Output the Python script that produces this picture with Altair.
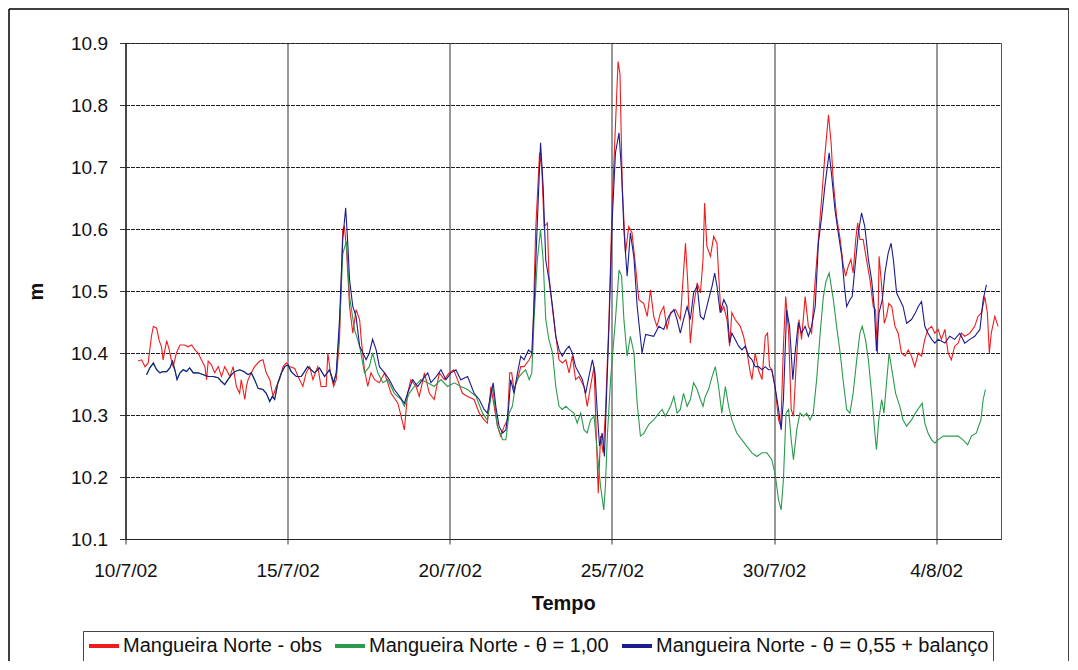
import altair as alt
import pandas as pd

# ---------------- data (days since 10/7/2002 00:00, water level in m) ----------------
series_names = [
    "Mangueira Norte - obs",
    "Mangueira Norte - θ = 1,00",
    "Mangueira Norte - θ = 0,55 + balanço",
]
series_colors = ["#f01c1c", "#2a9a4c", "#1c1c8e"]

tick_labels = ["10/7/02", "15/7/02", "20/7/02", "25/7/02", "30/7/02", "4/8/02"]
tick_days = [0, 5, 10, 15, 20, 25]
y_ticks = [10.1, 10.2, 10.3, 10.4, 10.5, 10.6, 10.7, 10.8, 10.9]

obs_day = [0.39, 0.50, 0.60, 0.70, 0.80, 0.86, 0.96, 1.04, 1.11, 1.16, 1.27, 1.35, 1.42, 1.47, 1.57, 1.68, 1.83, 1.93,
           2.04, 2.14, 2.24, 2.34, 2.45, 2.50, 2.55, 2.65, 2.75, 2.86, 2.96, 3.06, 3.22, 3.32, 3.42, 3.52, 3.57, 3.68,
           3.73, 3.78, 3.88, 3.98, 4.14, 4.24, 4.34, 4.45, 4.55, 4.65, 4.75, 4.86, 4.96, 5.06, 5.22, 5.32, 5.47, 5.57,
           5.68, 5.78, 5.93, 6.03, 6.19, 6.24, 6.32, 6.42, 6.50, 6.60, 6.70, 6.75, 6.81, 6.91, 7.01, 7.11, 7.22, 7.27,
           7.37, 7.47, 7.57, 7.68, 7.83, 7.99, 8.19, 8.40, 8.55, 8.60, 8.70, 8.80, 8.96, 9.06, 9.22, 9.37, 9.52, 9.68,
           9.83, 9.98, 10.12, 10.24, 10.39, 10.55, 10.75, 10.91, 11.06, 11.16, 11.27, 11.37, 11.47, 11.57, 11.68,
           11.78, 11.85, 11.91, 11.98, 12.09, 12.19, 12.29, 12.45, 12.55, 12.65, 12.77, 12.84, 12.91, 13.01, 13.06,
           13.17, 13.27, 13.37, 13.47, 13.58, 13.68, 13.78, 13.88, 13.98, 14.14, 14.24, 14.34, 14.45, 14.52, 14.58,
           14.65, 14.73, 14.80, 14.91, 15.01, 15.12, 15.19, 15.25, 15.32, 15.42, 15.52, 15.62, 15.73, 15.83, 15.98,
           16.09, 16.19, 16.29, 16.39, 16.50, 16.60, 16.70, 16.81, 16.96, 17.11, 17.27, 17.34, 17.42, 17.52, 17.63,
           17.73, 17.81, 17.86, 17.93, 18.04, 18.14, 18.24, 18.29, 18.36, 18.45, 18.55, 18.63, 18.70, 18.80, 18.96,
           19.06, 19.17, 19.27, 19.32, 19.42, 19.52, 19.63, 19.73, 19.80, 19.86, 19.93, 20.03, 20.14, 20.21, 20.29,
           20.36, 20.45, 20.53, 20.60, 20.68, 20.77, 20.85, 20.96, 21.06, 21.16, 21.27, 21.37, 21.47, 21.57, 21.68,
           21.76, 21.83, 21.93, 22.04, 22.14, 22.21, 22.29, 22.37, 22.44, 22.52, 22.58, 22.65, 22.75, 22.85, 22.96,
           23.06, 23.13, 23.19, 23.24, 23.32, 23.40, 23.47, 23.54, 23.63, 23.73, 23.83, 23.93, 24.04, 24.14, 24.24,
           24.34, 24.45, 24.55, 24.65, 24.75, 24.86, 24.96, 25.06, 25.16, 25.27, 25.37, 25.47, 25.57, 25.68, 25.78,
           25.88, 26.04, 26.19, 26.29, 26.40, 26.50, 26.58, 26.64, 26.70, 26.81, 26.91]
obs_val = [10.387, 10.389, 10.378, 10.384, 10.427, 10.443, 10.44, 10.42, 10.41, 10.389, 10.42, 10.405, 10.387, 10.378,
           10.40, 10.413, 10.413, 10.41, 10.413, 10.405, 10.40, 10.389, 10.378, 10.357, 10.387, 10.381, 10.368, 10.378,
           10.362, 10.378, 10.362, 10.378, 10.346, 10.335, 10.357, 10.325, 10.346, 10.357, 10.368, 10.378, 10.387,
           10.389, 10.368, 10.357, 10.33, 10.346, 10.357, 10.378, 10.384, 10.378, 10.375, 10.362, 10.346, 10.368,
           10.378, 10.357, 10.378, 10.346, 10.346, 10.40, 10.368, 10.346, 10.357, 10.422, 10.599, 10.604, 10.572,
           10.475, 10.432, 10.47, 10.454, 10.422, 10.373, 10.346, 10.368, 10.357, 10.352, 10.368, 10.335, 10.319,
           10.287, 10.276, 10.335, 10.357, 10.346, 10.33, 10.368, 10.335, 10.325, 10.368, 10.357, 10.368, 10.373,
           10.357, 10.335, 10.33, 10.325, 10.303, 10.292, 10.287, 10.346, 10.314, 10.282, 10.266, 10.282, 10.292,
           10.368, 10.368, 10.341, 10.357, 10.378, 10.378, 10.389, 10.40, 10.599, 10.723, 10.696, 10.604, 10.61,
           10.524, 10.47, 10.427, 10.389, 10.384, 10.389, 10.368, 10.395, 10.357, 10.362, 10.346, 10.314, 10.346,
           10.378, 10.266, 10.174, 10.266, 10.239, 10.303, 10.454, 10.642, 10.78, 10.87, 10.85, 10.669, 10.561,
           10.604, 10.594, 10.54, 10.486, 10.48, 10.459, 10.502, 10.459, 10.443, 10.465, 10.475, 10.438, 10.465,
           10.47, 10.454, 10.577, 10.513, 10.416, 10.475, 10.513, 10.497, 10.55, 10.642, 10.572, 10.556, 10.588,
           10.577, 10.529, 10.465, 10.475, 10.454, 10.411, 10.465, 10.454, 10.443, 10.427, 10.40, 10.368, 10.357,
           10.40, 10.373, 10.357, 10.427, 10.432, 10.378, 10.373, 10.346, 10.292, 10.282, 10.411, 10.491, 10.432,
           10.309, 10.298, 10.378, 10.454, 10.422, 10.491, 10.443, 10.432, 10.518, 10.585, 10.65, 10.72, 10.784,
           10.739, 10.674, 10.62, 10.583, 10.54, 10.524, 10.54, 10.551, 10.529, 10.583, 10.61, 10.583, 10.583, 10.551,
           10.518, 10.475, 10.47, 10.40, 10.556, 10.508, 10.448, 10.459, 10.48, 10.475, 10.443, 10.432, 10.40, 10.395,
           10.405, 10.395, 10.378, 10.40, 10.395, 10.422, 10.438, 10.443, 10.432, 10.438, 10.422, 10.438, 10.40,
           10.389, 10.411, 10.416, 10.432, 10.427, 10.432, 10.443, 10.459, 10.465, 10.491, 10.465, 10.40, 10.432,
           10.459, 10.443]

th100_day = [0.65, 0.75, 0.86, 0.96, 1.06, 1.16, 1.27, 1.37, 1.45, 1.52, 1.59, 1.68, 1.78, 1.88, 1.98, 2.09, 2.24, 2.40,
             2.55, 2.70, 2.86, 2.96, 3.06, 3.16, 3.27, 3.37, 3.52, 3.65, 3.78, 3.88, 3.98, 4.09, 4.24, 4.34, 4.45, 4.53,
             4.60, 4.70, 4.81, 4.91, 5.01, 5.11, 5.27, 5.42, 5.62, 5.83, 5.98, 6.14, 6.29, 6.42, 6.50, 6.60, 6.70, 6.81,
             6.91, 7.06, 7.22, 7.37, 7.52, 7.62, 7.78, 7.94, 8.09, 8.29, 8.50, 8.60, 8.75, 8.91, 9.11, 9.32, 9.52, 9.73,
             9.93, 10.14, 10.34, 10.55, 10.81, 11.01, 11.16, 11.32, 11.47, 11.63, 11.73, 11.83, 11.93, 12.04, 12.14,
             12.24, 12.34, 12.45, 12.53, 12.60, 12.70, 12.80, 12.88, 12.96, 13.06, 13.17, 13.27, 13.37, 13.47, 13.58,
             13.68, 13.83, 13.93, 14.04, 14.14, 14.24, 14.34, 14.45, 14.55, 14.65, 14.75, 14.80, 14.86, 14.96, 15.11,
             15.22, 15.30, 15.37, 15.47, 15.57, 15.68, 15.78, 15.88, 15.98, 16.14, 16.29, 16.45, 16.55, 16.65, 16.81,
             16.91, 17.01, 17.11, 17.21, 17.32, 17.42, 17.52, 17.63, 17.73, 17.81, 17.88, 17.98, 18.09, 18.19, 18.29,
             18.39, 18.50, 18.60, 18.70, 18.85, 19.01, 19.17, 19.32, 19.47, 19.63, 19.78, 19.93, 20.03, 20.14, 20.22,
             20.29, 20.37, 20.45, 20.53, 20.60, 20.70, 20.80, 20.91, 21.01, 21.11, 21.21, 21.32, 21.42, 21.52, 21.60,
             21.70, 21.83, 21.93, 22.04, 22.14, 22.24, 22.34, 22.44, 22.55, 22.65, 22.72, 22.82, 22.91, 23.01, 23.11,
             23.16, 23.23, 23.32, 23.39, 23.47, 23.55, 23.65, 23.75, 23.88, 23.98, 24.09, 24.24, 24.36, 24.50, 24.57,
             24.65, 24.75, 24.86, 24.96, 25.06, 25.22, 25.37, 25.52, 25.68, 25.83, 25.97, 26.09, 26.24, 26.38, 26.45,
             26.52]
th100_val = [10.365, 10.376, 10.383, 10.373, 10.368, 10.37, 10.37, 10.376, 10.386, 10.373, 10.358, 10.368, 10.373,
             10.37, 10.376, 10.368, 10.368, 10.365, 10.362, 10.362, 10.36, 10.354, 10.349, 10.357, 10.365, 10.37,
             10.373, 10.37, 10.365, 10.368, 10.357, 10.343, 10.341, 10.335, 10.322, 10.33, 10.325, 10.352, 10.368,
             10.378, 10.381, 10.37, 10.362, 10.362, 10.378, 10.368, 10.376, 10.362, 10.373, 10.352, 10.368, 10.44,
             10.56, 10.58, 10.491, 10.438, 10.411, 10.368, 10.378, 10.40, 10.368, 10.352, 10.357, 10.335, 10.325,
             10.314, 10.335, 10.346, 10.357, 10.352, 10.346, 10.357, 10.346, 10.352, 10.346, 10.341, 10.33, 10.303,
             10.292, 10.346, 10.282, 10.26, 10.26, 10.303, 10.314, 10.352, 10.362, 10.368, 10.373, 10.357, 10.368,
             10.454, 10.55, 10.599, 10.55, 10.454, 10.421, 10.40, 10.346, 10.314, 10.309, 10.314, 10.309, 10.303,
             10.287, 10.303, 10.276, 10.271, 10.292, 10.298, 10.239, 10.185, 10.147, 10.185, 10.266, 10.357, 10.454,
             10.534, 10.524, 10.454, 10.395, 10.427, 10.40, 10.319, 10.266, 10.27, 10.285, 10.292, 10.303, 10.309,
             10.298, 10.314, 10.33, 10.303, 10.309, 10.335, 10.314, 10.325, 10.352, 10.341, 10.325, 10.314, 10.33,
             10.341, 10.362, 10.378, 10.346, 10.303, 10.346, 10.314, 10.292, 10.271, 10.26, 10.249, 10.239, 10.233,
             10.239, 10.239, 10.228, 10.206, 10.163, 10.147, 10.196, 10.303, 10.309, 10.26, 10.228, 10.276, 10.303,
             10.298, 10.303, 10.292, 10.303, 10.36, 10.43, 10.49, 10.515, 10.529, 10.486, 10.443, 10.40, 10.352,
             10.309, 10.303, 10.335, 10.389, 10.432, 10.443, 10.422, 10.389, 10.335, 10.271, 10.244, 10.292, 10.325,
             10.303, 10.352, 10.40, 10.368, 10.335, 10.314, 10.292, 10.282, 10.292, 10.303, 10.314, 10.319, 10.287,
             10.271, 10.26, 10.255, 10.26, 10.266, 10.266, 10.266, 10.266, 10.26, 10.252, 10.266, 10.271, 10.292,
             10.325, 10.341]

th055_day = [0.65, 0.75, 0.86, 0.96, 1.06, 1.16, 1.27, 1.37, 1.45, 1.52, 1.59, 1.68, 1.78, 1.88, 1.98, 2.09, 2.24, 2.40,
             2.55, 2.70, 2.86, 2.96, 3.06, 3.16, 3.27, 3.37, 3.52, 3.65, 3.78, 3.88, 3.98, 4.09, 4.24, 4.34, 4.45, 4.53,
             4.60, 4.70, 4.81, 4.91, 5.01, 5.11, 5.27, 5.42, 5.62, 5.83, 5.98, 6.14, 6.29, 6.42, 6.50, 6.60, 6.70, 6.79,
             6.86, 6.91, 7.01, 7.11, 7.22, 7.32, 7.42, 7.52, 7.62, 7.73, 7.83, 7.99, 8.14, 8.29, 8.45, 8.60, 8.70, 8.86,
             9.01, 9.16, 9.32, 9.42, 9.58, 9.73, 9.88, 10.04, 10.19, 10.34, 10.55, 10.75, 10.91, 11.06, 11.16, 11.27,
             11.34, 11.42, 11.52, 11.63, 11.73, 11.81, 11.88, 11.98, 12.09, 12.19, 12.29, 12.43, 12.53, 12.60, 12.70,
             12.80, 12.88, 12.96, 13.06, 13.17, 13.27, 13.37, 13.47, 13.58, 13.68, 13.78, 13.88, 13.98, 14.09, 14.19,
             14.29, 14.40, 14.48, 14.55, 14.62, 14.70, 14.77, 14.82, 14.91, 15.01, 15.11, 15.22, 15.30, 15.37, 15.47,
             15.57, 15.68, 15.78, 15.93, 16.04, 16.29, 16.45, 16.60, 16.75, 16.91, 17.01, 17.11, 17.21, 17.32, 17.42,
             17.52, 17.63, 17.73, 17.83, 17.98, 18.09, 18.17, 18.24, 18.34, 18.45, 18.55, 18.63, 18.70, 18.80, 18.91,
             19.01, 19.11, 19.22, 19.32, 19.42, 19.52, 19.63, 19.73, 19.83, 19.93, 20.03, 20.14, 20.22, 20.29, 20.39,
             20.48, 20.58, 20.65, 20.75, 20.85, 20.96, 21.06, 21.16, 21.27, 21.37, 21.47, 21.57, 21.70, 21.78, 21.88,
             21.98, 22.09, 22.17, 22.24, 22.34, 22.41, 22.50, 22.60, 22.70, 22.80, 22.91, 23.01, 23.09, 23.16, 23.24,
             23.34, 23.42, 23.52, 23.61, 23.68, 23.78, 23.88, 23.98, 24.09, 24.24, 24.36, 24.45, 24.55, 24.65, 24.75,
             24.86, 24.96, 25.06, 25.27, 25.42, 25.57, 25.73, 25.88, 26.04, 26.19, 26.35, 26.45, 26.55]
th055_val = [10.365, 10.376, 10.384, 10.373, 10.368, 10.37, 10.37, 10.376, 10.387, 10.373, 10.357, 10.368, 10.373,
             10.37, 10.376, 10.368, 10.368, 10.365, 10.362, 10.362, 10.36, 10.354, 10.349, 10.357, 10.365, 10.37,
             10.373, 10.37, 10.365, 10.368, 10.357, 10.343, 10.341, 10.335, 10.322, 10.33, 10.325, 10.352, 10.368,
             10.378, 10.381, 10.37, 10.362, 10.362, 10.378, 10.368, 10.376, 10.362, 10.373, 10.352, 10.368, 10.454,
             10.583, 10.634, 10.572, 10.518, 10.475, 10.459, 10.411, 10.40, 10.389, 10.40, 10.422, 10.405, 10.378,
             10.368, 10.357, 10.341, 10.33, 10.319, 10.335, 10.357, 10.346, 10.357, 10.368, 10.352, 10.362, 10.373,
             10.357, 10.368, 10.373, 10.357, 10.362, 10.335, 10.325, 10.309, 10.303, 10.335, 10.352, 10.314, 10.282,
             10.271, 10.276, 10.309, 10.357, 10.335, 10.368, 10.395, 10.389, 10.405, 10.40, 10.475, 10.61, 10.739,
             10.669, 10.55, 10.518, 10.475, 10.427, 10.405, 10.395, 10.405, 10.411, 10.40, 10.378, 10.368, 10.357,
             10.335, 10.362, 10.389, 10.368, 10.303, 10.25, 10.271, 10.233, 10.309, 10.443, 10.615, 10.723, 10.755,
             10.69, 10.599, 10.524, 10.594, 10.554, 10.475, 10.40, 10.43, 10.427, 10.443, 10.438, 10.459, 10.47,
             10.454, 10.432, 10.454, 10.475, 10.454, 10.497, 10.508, 10.459, 10.454, 10.486, 10.508, 10.529, 10.508,
             10.465, 10.486, 10.475, 10.416, 10.432, 10.422, 10.411, 10.405, 10.411, 10.395, 10.389, 10.378, 10.378,
             10.373, 10.378, 10.373, 10.373, 10.346, 10.309, 10.276, 10.325, 10.47, 10.443, 10.357, 10.40, 10.449,
             10.432, 10.443, 10.427, 10.443, 10.475, 10.578, 10.62, 10.67, 10.723, 10.685, 10.631, 10.594, 10.556,
             10.508, 10.475, 10.486, 10.491, 10.54, 10.594, 10.626, 10.604, 10.551, 10.518, 10.475, 10.403, 10.465,
             10.486, 10.529, 10.561, 10.577, 10.551, 10.497, 10.486, 10.475, 10.448, 10.454, 10.465, 10.475, 10.483,
             10.443, 10.432, 10.422, 10.416, 10.422, 10.416, 10.427, 10.422, 10.432, 10.416, 10.422, 10.427, 10.438,
             10.486, 10.51]

# ---------------- table ----------------
start = pd.Timestamp("2002-07-10 00:00:00")
frames = []
for name, days, vals in zip(series_names, [obs_day, th100_day, th055_day], [obs_val, th100_val, th055_val]):
    frames.append(pd.DataFrame({
        "tempo": start + pd.to_timedelta(pd.Series(days), unit="D"),
        "nivel": vals,
        "serie": name,
    }))
df = pd.concat(frames, ignore_index=True)

FONT = "Liberation Sans, Arial, sans-serif"
tick_values = [alt.DateTime(year=2002, month=7, date=10 + d) if 10 + d <= 31
               else alt.DateTime(year=2002, month=8, date=10 + d - 31) for d in tick_days]
label_expr = "{" + ", ".join(
    f"'{(start + pd.Timedelta(days=d)).strftime('%d/%m')}': '{lab}'" for d, lab in zip(tick_days, tick_labels)
) + "}[timeFormat(datum.value, '%d/%m')]"

x_enc = alt.X(
    "tempo:T",
    scale=alt.Scale(domain=[alt.DateTime(year=2002, month=7, date=10), alt.DateTime(year=2002, month=8, date=6)],
                    nice=False),
    axis=alt.Axis(values=tick_values, labelExpr=label_expr, title="Tempo", labelFontSize=19, labelFont=FONT,
                  labelColor="#111", labelPadding=17, labelFlush=False, labelOverlap=False, tickSize=5,
                  tickColor="#333", domainColor="#222", grid=True, gridColor="#333", gridWidth=1,
                  titleFont=FONT, titleFontSize=20, titleFontWeight="bold", titleColor="#111", titlePadding=13),
)
y_enc = alt.Y(
    "nivel:Q",
    scale=alt.Scale(domain=[10.1, 10.9], nice=False, zero=False),
    axis=alt.Axis(values=y_ticks, format=".1f", title="m", labelFontSize=19, labelFont=FONT, labelColor="#111",
                  labelPadding=12, tickSize=6, tickColor="#333", domainColor="#222", grid=True,
                  gridColor="#222", gridDash=[4, 1], gridWidth=1, titleFont=FONT, titleFontSize=20,
                  titleFontWeight="bold", titleColor="#111", titlePadding=24),
)
color_enc = alt.Color(
    "serie:N",
    scale=alt.Scale(domain=series_names, range=series_colors),
    legend=alt.Legend(title=None, orient="none", legendX=-42.5, legendY=588, direction="horizontal", columns=3,
                      symbolType="stroke", symbolSize=900, symbolStrokeWidth=4, clipHeight=22, labelFont=FONT,
                      labelFontSize=20, labelColor="#111", labelLimit=600, labelOffset=2, columnPadding=11,
                      padding=4, strokeColor="#444", fillColor="white"),
)

base = alt.Chart(df).encode(x=x_enc, y=y_enc, color=color_enc)
lines = [base.transform_filter(alt.datum.serie == name).mark_line(strokeWidth=1.1) for name in series_names]

frame_df = pd.DataFrame({"k": [0]})
frame = alt.Chart(frame_df)
left_edge = frame.mark_rule(color="#000", strokeWidth=1.5).encode(
    x=alt.value(-116.5), y=alt.value(-34), y2=alt.value(620))
top_edge = frame.mark_rule(color="#000", strokeWidth=1.5).encode(
    x=alt.value(-116.5), x2=alt.value(943.5), y=alt.value(-34))
right_edge = frame.mark_rule(color="#000", strokeWidth=1.5).encode(
    x=alt.value(943.5), y=alt.value(-34), y2=alt.value(620))

chart = alt.layer(*lines, left_edge, top_edge, right_edge).properties(
    width=875.5,
    height=496,
    padding={"left": 117.5, "top": 35, "right": 68, "bottom": 122},
    autosize=alt.AutoSizeParams(type="none"),
    background="white",
).configure_view(stroke="#555", strokeWidth=1)

chart.save("out.html", embed_options={"renderer": "svg", "actions": False})
